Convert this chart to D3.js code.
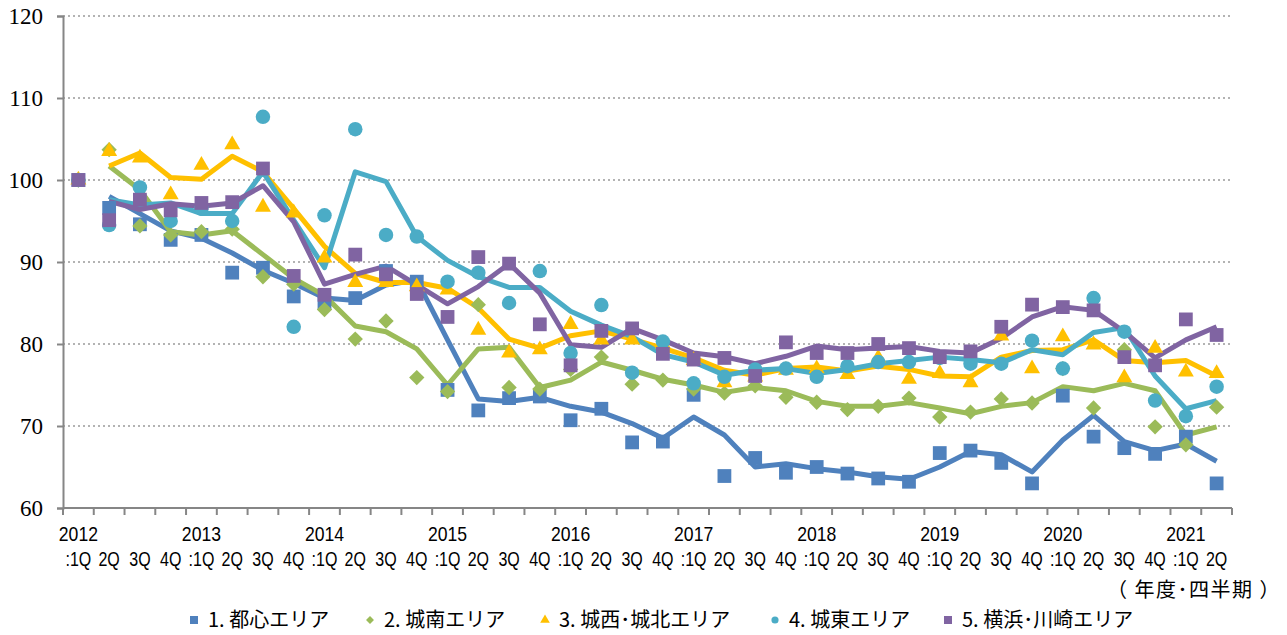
<!DOCTYPE html>
<html>
<head>
<meta charset="utf-8">
<script src="https://cdn.jsdelivr.net/npm/d3@7"></script>
<style>
  body { margin: 0; background: #fff; }
  svg { display: block; }
  .ylab { font-family: "Liberation Serif", "Times New Roman", serif; font-size: 23px; fill: #000; }
  .xlab { font-family: "Liberation Sans", Arial, sans-serif; font-size: 20px; fill: #000; }
  .jp { font-family: "Noto Sans CJK JP", sans-serif; font-size: 20px; fill: #000; }
</style>
</head>
<body>
<svg id="chart" width="1287" height="635"></svg>
<script>
// x categories (fiscal year : quarter)
const years = [2012, 2013, 2014, 2015, 2016, 2017, 2018, 2019, 2020, 2021];
const quarterLabels = [':1Q', '2Q', '3Q', '4Q'];
const categories = [];
years.forEach(y => quarterLabels.forEach(q => categories.push(y + q)));
categories.splice(38); // data ends at 2021:2Q

const yTicks = [60, 70, 80, 90, 100, 110, 120];

// quarterly index values (markers)
const toshinPts = [100, 96.6, 94.6, 92.7, 93.3, 88.7, 89.3, 85.8, 85.0, 85.6, 88.9, 87.6, 74.4, 71.9, 73.4, 73.6, 70.7, 72.1, 68.0, 68.1, 73.8, 63.9, 66.1, 64.3, 65.0, 64.2, 63.6, 63.2, 66.7, 67.0, 65.5, 63.0, 73.7, 68.7, 67.3, 66.6, 68.7, 63.0];
const jonanPts = [100, 103.7, 94.4, 93.3, 93.7, 94.0, 88.2, 87.3, 84.2, 80.6, 82.8, 75.9, 74.2, 84.8, 74.7, 74.5, 76.9, 78.4, 75.1, 75.6, 74.5, 74.0, 74.9, 73.5, 72.9, 72.0, 72.4, 73.4, 71.1, 71.7, 73.3, 72.8, 77.0, 72.2, 79.3, 69.9, 67.7, 72.3];
const josaiPts = [100, 103.5, 102.7, 98.2, 101.8, 104.3, 96.7, 96.0, 90.5, 87.5, 87.5, 87.0, 86.6, 81.7, 78.9, 79.3, 82.4, 80.5, 80.5, 80.0, 78.0, 75.3, 76.0, 76.8, 77.0, 76.3, 78.3, 75.7, 76.4, 75.3, 81.0, 77.0, 80.9, 79.9, 75.9, 79.5, 76.6, 76.4];
const jotoPts = [100, 94.5, 99.1, 95.0, 96.5, 95.0, 107.7, 82.1, 95.7, 106.2, 93.3, 93.1, 87.6, 88.7, 85.0, 88.9, 78.9, 84.75, 76.5, 80.3, 75.2, 76.0, 76.9, 77.0, 76.0, 77.3, 77.8, 77.8, 78.3, 77.6, 77.6, 80.4, 77.0, 85.6, 81.5, 73.1, 71.2, 74.8];
const yokohamaPts = [100, 95.1, 97.6, 96.3, 97.2, 97.3, 101.4, 88.3, 86.0, 90.9, 88.5, 86.1, 83.3, 90.6, 89.8, 82.4, 77.4, 81.6, 81.9, 78.8, 78.1, 78.3, 76.1, 80.2, 78.9, 78.9, 80.0, 79.5, 78.4, 79.1, 82.1, 84.8, 84.5, 84.1, 78.4, 77.4, 83.0, 81.1];

// trend lines (start at 2012:2Q)
const toshinLine = [null, 98.0, 95.9, 93.8, 92.9, 91.1, 89.0, 87.4, 85.6, 85.3, 87.2, 87.8, 80.5, 73.3, 73.0, 73.5, 72.4, 71.7, 70.3, 68.5, 71.1, 68.9, 65.0, 65.4, 64.8, 64.4, 63.8, 63.5, 65.0, 66.9, 66.5, 64.4, 68.3, 71.3, 68.1, 67.0, 67.8, 65.7];
const jonanLine = [null, 101.7, 98.8, 93.7, 93.3, 93.8, 90.9, 88.0, 85.9, 82.2, 81.5, 79.4, 75.0, 79.4, 79.6, 74.7, 75.6, 77.8, 76.8, 75.7, 75.0, 74.1, 74.7, 74.3, 73.0, 72.4, 72.4, 72.85, 72.2, 71.5, 72.4, 72.85, 74.8, 74.3, 75.2, 74.3, 68.9, 69.9];
const josaiLine = [null, 101.7, 103.3, 100.3, 100.1, 102.9, 101.0, 96.5, 91.9, 88.6, 87.5, 87.5, 86.8, 84.4, 80.6, 79.5, 81.0, 81.6, 80.6, 79.5, 78.3, 76.8, 76.2, 77.0, 77.2, 76.7, 77.3, 76.9, 76.1, 76.0, 78.4, 79.2, 79.3, 80.5, 78.0, 77.7, 78.0, 76.1];
const jotoLine = [null, 97.6, 96.95, 97.2, 95.9, 95.9, 101.0, 95.1, 89.3, 101.0, 99.8, 93.1, 90.2, 88.2, 86.9, 86.9, 84.0, 82.3, 80.9, 78.7, 77.8, 76.2, 76.8, 77.0, 76.4, 76.9, 77.6, 78.0, 78.4, 78.1, 77.7, 79.3, 78.7, 81.4, 82.0, 76.1, 72.1, 73.1];
const yokohamaLine = [null, 97.4, 96.4, 97.1, 96.8, 97.2, 99.3, 94.9, 87.3, 88.5, 89.5, 87.2, 84.9, 87.0, 89.8, 86.2, 79.9, 79.6, 81.9, 80.5, 78.9, 78.45, 77.6, 78.5, 79.75, 79.3, 79.5, 79.7, 79.1, 78.9, 80.7, 83.3, 84.55, 84.1, 81.5, 78.3, 80.5, 82.1];

const seriesNames = ['1. 都心エリア', '2. 城南エリア', '3. 城西･城北エリア', '4. 城東エリア', '5. 横浜･川崎エリア'];

const series = [
  { name: seriesNames[0], pts: toshinPts, line: toshinLine, color: '#4F81BD', symbol: d3.symbolSquare, size: 190 },
  { name: seriesNames[1], pts: jonanPts, line: jonanLine, color: '#9BBB59', symbol: d3.symbolDiamond2, size: 150 },
  { name: seriesNames[2], pts: josaiPts, line: josaiLine, color: '#FFC000', symbol: d3.symbolTriangle, size: 110 },
  { name: seriesNames[3], pts: jotoPts, line: jotoLine, color: '#4BACC6', symbol: d3.symbolCircle, size: 165 },
  { name: seriesNames[4], pts: yokohamaPts, line: yokohamaLine, color: '#8064A2', symbol: d3.symbolSquare, size: 190 }
];

const svg = d3.select('#chart');
const plotLeft = 63, plotRight = 1232, plotTop = 16, plotBottom = 508;

const x = d3.scaleBand()
  .domain(d3.range(categories.length))
  .range([plotLeft, plotRight])
  .padding(0);
const cx = i => x(i) + x.bandwidth() / 2;

const y = d3.scaleLinear()
  .domain([60, 120])
  .range([plotBottom, plotTop]);

// dotted gridlines
svg.append('g')
  .selectAll('line')
  .data(yTicks.filter(d => d > 60))
  .enter()
  .append('line')
  .attr('x1', plotLeft)
  .attr('x2', plotRight)
  .attr('y1', d => y(d))
  .attr('y2', d => y(d))
  .attr('stroke', '#b3b3b3')
  .attr('stroke-width', 2)
  .attr('stroke-dasharray', '2,3');

// y axis
const yAxis = svg.append('g')
  .attr('transform', `translate(${plotLeft},0)`)
  .call(d3.axisLeft(y).tickValues(yTicks).tickSize(6).tickPadding(14));
yAxis.select('.domain').attr('stroke', '#868686').attr('stroke-width', 2);
yAxis.selectAll('.tick line').attr('stroke', '#868686').attr('stroke-width', 2);
yAxis.selectAll('.tick text').attr('class', 'ylab').attr('font-size', null).attr('font-family', null);

// x axis: boundary ticks
svg.append('line')
  .attr('x1', plotLeft).attr('x2', plotRight)
  .attr('y1', plotBottom).attr('y2', plotBottom)
  .attr('stroke', '#868686').attr('stroke-width', 2);
svg.append('g')
  .selectAll('line')
  .data(d3.range(categories.length + 1))
  .enter()
  .append('line')
  .attr('x1', i => i < categories.length ? x(i) : plotRight)
  .attr('x2', i => i < categories.length ? x(i) : plotRight)
  .attr('y1', plotBottom)
  .attr('y2', plotBottom + 7)
  .attr('stroke', '#868686')
  .attr('stroke-width', 2);

// quarter labels (condensed look)
svg.append('g')
  .selectAll('text')
  .data(categories)
  .enter()
  .append('text')
  .attr('class', 'xlab')
  .attr('transform', (d, i) => `translate(${cx(i)},566) scale(0.8,1)`)
  .attr('text-anchor', 'middle')
  .text(d => d.slice(4));

// year labels over each :1Q
svg.append('g')
  .selectAll('text')
  .data(years)
  .enter()
  .append('text')
  .attr('class', 'xlab')
  .attr('transform', (d, i) => `translate(${cx(i * 4)},541) scale(0.88,1)`)
  .attr('text-anchor', 'middle')
  .text(d => d);

svg.append('text')
  .attr('class', 'jp')
  .attr('x', 1281)
  .attr('y', 597)
  .attr('text-anchor', 'end')
  .attr('font-size', 21)
  .attr('letter-spacing', 1.5)
  .text('（ 年度･四半期 ）');

// trend lines
const line = d3.line()
  .defined(d => d != null)
  .x((d, i) => cx(i))
  .y(d => y(d));

series.forEach(s => {
  svg.append('path')
    .datum(s.line)
    .attr('fill', 'none')
    .attr('stroke', s.color)
    .attr('stroke-width', 5)
    .attr('stroke-linejoin', 'round')
    .attr('d', line);
});

// markers
series.forEach(s => {
  svg.append('g')
    .selectAll('path')
    .data(s.pts)
    .enter()
    .append('path')
    .attr('transform', (d, i) => `translate(${cx(i)},${y(d)})`)
    .attr('d', d3.symbol().type(s.symbol).size(s.size))
    .attr('fill', s.color);
});

// legend
const legendX = [194, 370, 545, 775, 948];
const legend = svg.append('g')
  .selectAll('g')
  .data(series)
  .enter()
  .append('g')
  .attr('transform', (d, i) => `translate(${legendX[i]},620)`);
legend.append('path')
  .attr('d', d => d3.symbol().type(d.symbol).size(d.symbol === d3.symbolSquare ? 64 : 40)())
  .attr('fill', d => d.color);
legend.append('text')
  .attr('class', 'jp')
  .attr('x', 14)
  .attr('y', 7)
  .text(d => d.name);
</script>
</body>
</html>
